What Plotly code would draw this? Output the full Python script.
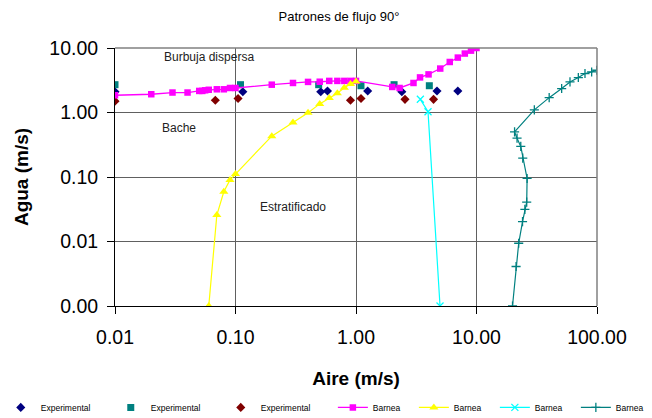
import plotly.graph_objects as go

# Experimental flow-pattern observations (air / water superficial velocity, m/s)
exp1_aire = [0.01, 0.115, 0.51, 0.58, 1.25, 2.4, 4.7, 7.0]
exp1_agua = [2.1, 2.1, 2.1, 2.15, 2.15, 2.1, 2.15, 2.15]

exp2_aire = [0.01, 0.11, 0.49, 1.1, 2.07, 4.06]
exp2_agua = [2.7, 2.7, 2.7, 2.6, 2.7, 2.6]

exp3_aire = [0.01, 0.068, 0.105, 0.9, 1.1, 2.55, 4.4]
exp3_agua = [1.5, 1.55, 1.65, 1.55, 1.65, 1.6, 1.6]

# Barnea transition boundaries
barnea_db_aire = [0.01, 0.02, 0.03, 0.04, 0.05, 0.053, 0.056, 0.06, 0.07, 0.08, 0.09, 0.1,
                  0.2, 0.3, 0.4, 0.5, 0.6, 0.7, 0.8, 0.9, 1.0,
                  2.0, 2.3, 3.0, 3.4, 4.0, 5.0, 6.0, 7.0, 8.0, 9.0, 10.0]
barnea_db_agua = [1.85, 1.92, 2.04, 2.04, 2.16, 2.16, 2.21, 2.25, 2.29, 2.29, 2.4, 2.4,
                  2.7, 2.87, 2.98, 3.0, 3.09, 3.09, 3.09, 3.09, 3.09,
                  2.49, 2.4, 2.87, 3.5, 3.9, 4.8, 6.07, 7.1, 8.2, 9.1, 10.0]

barnea_st_aire = [0.06, 0.07, 0.08, 0.09, 0.1, 0.2, 0.3, 0.4, 0.5, 0.6, 0.7, 0.8, 0.9, 1.0]
barnea_st_agua = [0.001, 0.0257, 0.059, 0.09, 0.111, 0.43, 0.70, 0.99, 1.36, 1.68, 1.99, 2.42, 2.77, 3.02]

barnea_sb_aire = [3.42, 3.96, 4.98]
barnea_sb_agua = [1.6, 1.03, 0.001]

barnea_an_aire = [19.9, 21.3, 22.4, 24.1, 25.2, 26.1, 26.3, 24.2, 23.3, 21.7, 20.7,
                  30.2, 40.1, 50.9, 59.7, 70.0, 79.5, 90.3, 99.5]
barnea_an_agua = [0.001, 0.0041, 0.0094, 0.0203, 0.0315, 0.0408, 0.095, 0.196, 0.298, 0.40, 0.50,
                  1.1, 1.70, 2.35, 2.98, 3.48, 4.02, 4.25, 4.52]

x_ticks = [0.01, 0.1, 1, 10, 100]
x_tick_text = ["0.01", "0.10", "1.00", "10.00", "100.00"]
y_ticks = [0.001, 0.01, 0.1, 1, 10]
y_tick_text = ["0.00", "0.01", "0.10", "1.00", "10.00"]

FONT = "Liberation Sans, Arial, sans-serif"

fig = go.Figure()

fig.add_trace(go.Scatter(x=exp1_aire, y=exp1_agua, mode="markers", name="Experimental", legend="legend",
                         marker=dict(symbol="diamond", size=7, color="#000080")))
fig.add_trace(go.Scatter(x=exp2_aire, y=exp2_agua, mode="markers", name="Experimental", legend="legend",
                         marker=dict(symbol="square", size=7, color="#008080")))
fig.add_trace(go.Scatter(x=exp3_aire, y=exp3_agua, mode="markers", name="Experimental", legend="legend",
                         marker=dict(symbol="diamond", size=7, color="#800000")))
fig.add_trace(go.Scatter(x=barnea_db_aire, y=barnea_db_agua, mode="lines+markers", name="Barnea",
                         legend="legend2", line=dict(color="#FF00FF", width=1.3),
                         marker=dict(symbol="square", size=6.5, color="#FF00FF")))
fig.add_trace(go.Scatter(x=barnea_st_aire, y=barnea_st_agua, mode="lines+markers", name="Barnea",
                         legend="legend2", line=dict(color="#FFFF00", width=1.2),
                         marker=dict(symbol="triangle-up", size=8, color="#FFFF00")))
fig.add_trace(go.Scatter(x=barnea_sb_aire, y=barnea_sb_agua, mode="lines+markers", name="Barnea",
                         legend="legend2", line=dict(color="#00FFFF", width=1.2),
                         marker=dict(symbol="x-thin", size=7, line=dict(color="#00FFFF", width=1.3))))
fig.add_trace(go.Scatter(x=barnea_an_aire, y=barnea_an_agua, mode="lines+markers", name="Barnea",
                         legend="legend2", line=dict(color="#008080", width=1.2),
                         marker=dict(symbol="cross-thin", size=6.5, line=dict(color="#008080", width=1.3))))

# Flow regime labels
regions = [("Burbuja dispersa", -1.22, 0.856), ("Bache", -1.469, -0.243), ("Estratificado", -0.523, -1.466)]
for txt, lx, ly in regions:
    fig.add_annotation(x=lx, y=ly, xref="x", yref="y", text=txt, showarrow=False,
                       font=dict(family=FONT, size=12, color="#222222"))

# Top and right frame edges
fig.add_shape(type="line", xref="paper", yref="paper", x0=0, x1=1, y0=1, y1=1,
              line=dict(color="#808080", width=1.5))
fig.add_shape(type="line", xref="paper", yref="paper", x0=1, x1=1, y0=0, y1=1,
              line=dict(color="#808080", width=1.5))

legend_common = dict(orientation="h", yref="paper", y=-0.393, yanchor="middle", xanchor="left",
                     font=dict(family=FONT, size=8.5), bgcolor="rgba(0,0,0,0)", itemwidth=30,
                     borderwidth=0)

fig.update_layout(
    width=652, height=418,
    margin=dict(l=115, r=55, t=48, b=112, autoexpand=False),
    paper_bgcolor="white", plot_bgcolor="white",
    font=dict(family=FONT, color="black"),
    title=dict(text="Patrones de flujo 90°", x=0.52, xanchor="center", y=0.96, yanchor="middle",
               font=dict(family=FONT, size=13, color="black")),
    xaxis=dict(type="log", range=[-2, 2], tickvals=x_ticks, ticktext=x_tick_text,
               showline=True, linecolor="black", linewidth=1, ticks="outside", ticklen=7,
               tickcolor="black", showgrid=True, gridcolor="#606060", gridwidth=1,
               tickfont=dict(family=FONT, size=19.5), ticklabelstandoff=7,
               title=dict(text="<b>Aire (m/s)</b>", font=dict(family=FONT, size=19), standoff=24),
               zeroline=False),
    yaxis=dict(type="log", range=[-3, 1], tickvals=y_ticks, ticktext=y_tick_text,
               showline=True, linecolor="black", linewidth=1, ticks="outside", ticklen=7,
               tickcolor="black", showgrid=True, gridcolor="#606060", gridwidth=1,
               tickfont=dict(family=FONT, size=19.5), ticklabelstandoff=5,
               title=dict(text="<b>Agua (m/s)</b>", font=dict(family=FONT, size=19), standoff=15),
               zeroline=False),
    legend=dict(legend_common, x=-0.237, entrywidth=65),
    legend2=dict(legend_common, x=0.452, entrywidth=36),
    showlegend=True,
)

fig.write_html("out.html")
